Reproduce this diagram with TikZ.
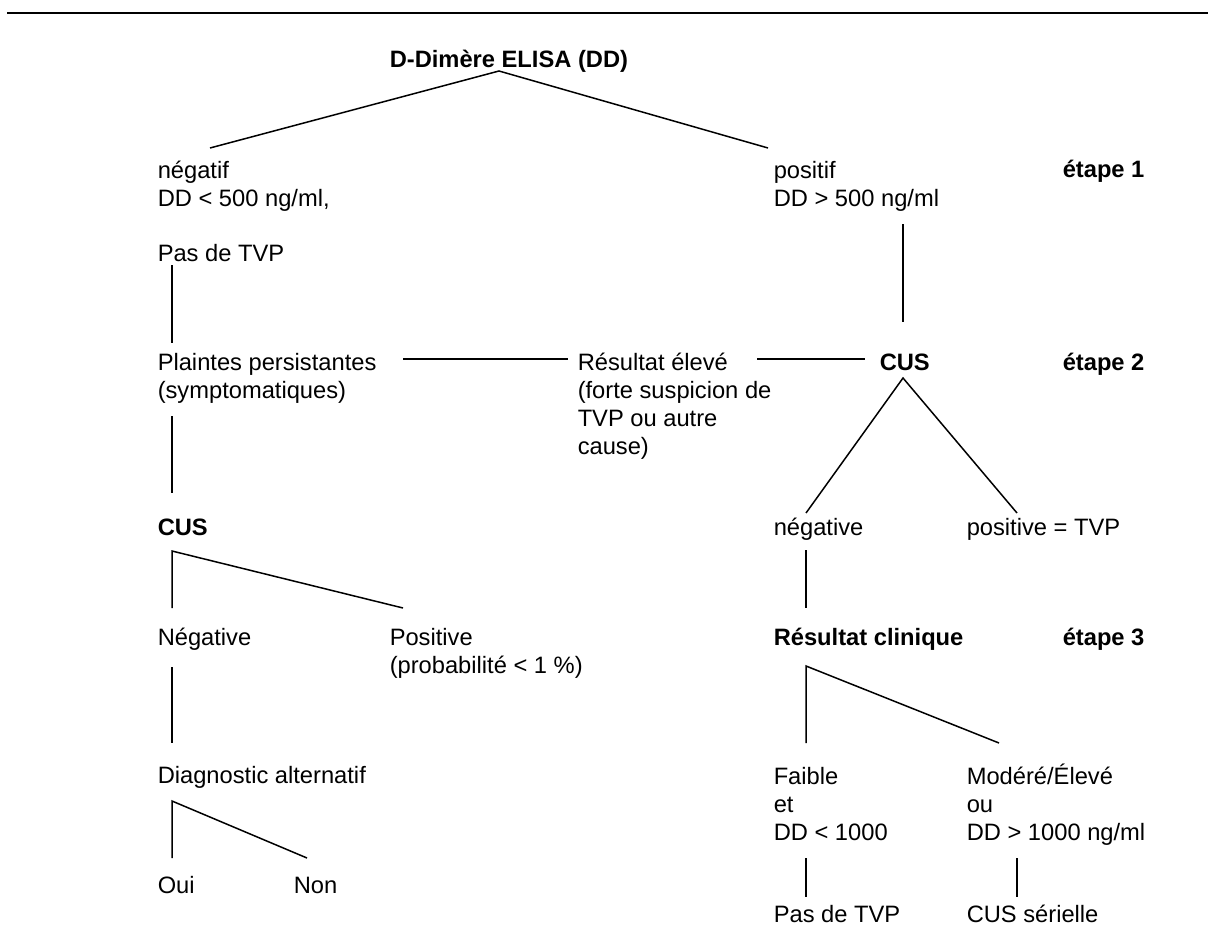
\documentclass[tikz,border=0pt]{standalone}
\usepackage{fontspec}
\setmainfont{Liberation Sans}

\begin{document}
\begin{tikzpicture}[x=0.5pt, y=-0.5pt, line width=0.75pt,
  txt/.style={anchor=base west, inner sep=0pt, align=left, font=\fontsize{11.85}{14}\selectfont},
  bold/.style={txt, font=\fontsize{11.85}{14}\selectfont\bfseries}]
  \useasboundingbox (0,0) rectangle (1208,947);
  % top rule
  \coordinate (ruleL) at (7,13); \coordinate (ruleR) at (1208,13);
  \draw[line width=1.1pt] (ruleL) -- (ruleR);
  % step 1 (multi-line nodes sit on their last baseline)
  \node[bold] (dd) at (389,68) {D-Dimère ELISA (DD)};
  \node[txt] (neg1) at (157,206) {négatif\\DD < 500 ng/ml,};
  \node[txt] (pos1) at (773,206) {positif\\DD > 500 ng/ml};
  \node[bold] (step1) at (1062,177) {étape 1};
  \node[txt] (noTvp) at (157,261) {Pas de TVP};
  % step 2
  \node[txt] (plaintes) at (157,398) {Plaintes persistantes\\(symptomatiques)};
  \node[txt] (eleve) at (577,454) {Résultat élevé\\(forte suspicion de\\TVP ou autre\\cause)};
  \node[bold] (cusA) at (879,370) {CUS};
  \node[bold] (step2) at (1062,370) {étape 2};
  \node[bold] (cusB) at (157,535) {CUS};
  \node[txt] (negA) at (773,535) {négative};
  \node[txt] (posA) at (966,535) {positive = TVP};
  \node[txt] (negB) at (157,645) {Négative};
  \node[txt] (posB) at (389,673) {Positive\\(probabilité < 1 \%)};
  % step 3
  \node[bold] (clin) at (773,645) {Résultat clinique};
  \node[bold] (step3) at (1062,645) {étape 3};
  \node[txt] (diag) at (157,783) {Diagnostic alternatif};
  \node[txt] (faible) at (773,840) {Faible\\et\\DD < 1000};
  \node[txt] (modere) at (966,840) {Modéré/Élevé\\ou\\DD > 1000 ng/ml};
  \node[txt] (oui) at (157,893) {Oui};
  \node[txt] (non) at (293,893) {Non};
  \node[txt] (noTvpB) at (773,922) {Pas de TVP};
  \node[txt] (serial) at (966,922) {CUS sérielle};
  % line ends
  \coordinate (ddTop) at (499,71);
  \coordinate (ddL) at (210,148); \coordinate (ddR) at (768,148);
  \coordinate (l1a) at (172,265); \coordinate (l1b) at (172,343);
  \coordinate (l2a) at (172,416); \coordinate (l2b) at (172,493);
  \coordinate (h1a) at (403,359); \coordinate (h1b) at (568,359);
  \coordinate (h2a) at (757,359); \coordinate (h2b) at (865,359);
  \coordinate (r1a) at (903,224); \coordinate (r1b) at (903,322);
  \coordinate (cusTop) at (903,378);
  \coordinate (cusL) at (806,513); \coordinate (cusR) at (1017,513);
  \coordinate (cB) at (172,551); \coordinate (cBl) at (172,608); \coordinate (cBr) at (403,608);
  \coordinate (l3a) at (172,667); \coordinate (l3b) at (172,743);
  \coordinate (dg) at (172,801); \coordinate (dgl) at (172,858); \coordinate (dgr) at (307,858);
  \coordinate (r2a) at (806,550); \coordinate (r2b) at (806,608);
  \coordinate (kl) at (806,666); \coordinate (kll) at (806,743); \coordinate (klr) at (999,743);
  \coordinate (r3a) at (806,858); \coordinate (r3b) at (806,897);
  \coordinate (r4a) at (1017,858); \coordinate (r4b) at (1017,897);
  % connectors
  \draw (ddL) -- (ddTop) -- (ddR);
  \draw (l1a) -- (l1b);
  \draw (l2a) -- (l2b);
  \draw (h1a) -- (h1b);
  \draw (h2a) -- (h2b);
  \draw (r1a) -- (r1b);
  \draw (cusL) -- (cusTop) -- (cusR);
  \draw (cBl) -- (cB) -- (cBr);
  \draw (l3a) -- (l3b);
  \draw (dgl) -- (dg) -- (dgr);
  \draw (r2a) -- (r2b);
  \draw (kll) -- (kl) -- (klr);
  \draw (r3a) -- (r3b);
  \draw (r4a) -- (r4b);
\end{tikzpicture}
\end{document}
